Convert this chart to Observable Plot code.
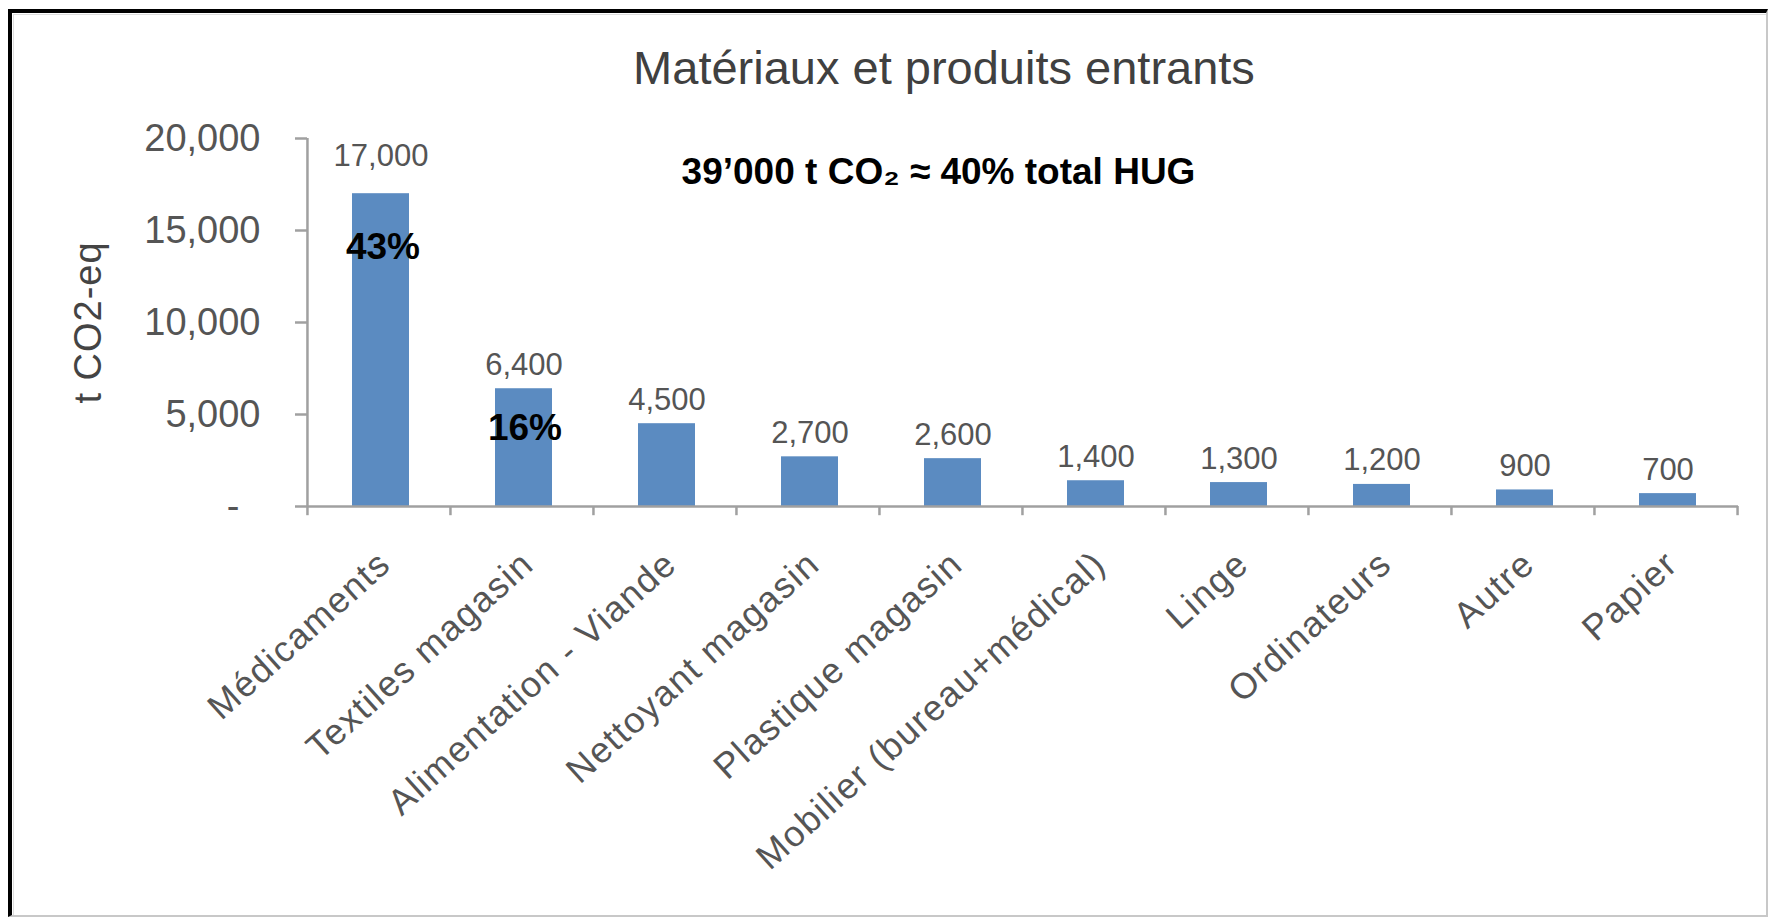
<!DOCTYPE html>
<html>
<head>
<meta charset="utf-8">
<script src="https://cdn.jsdelivr.net/npm/d3@7"></script>
<script src="https://cdn.jsdelivr.net/npm/@observablehq/plot@0.6"></script>
<style>
  body { margin: 0; background: #fff; }
  #wrap { position: relative; width: 1770px; height: 918px; background: #fff; overflow: hidden; font-family: "Liberation Sans", Arial, Helvetica, sans-serif; }
  #frame { position: absolute; left: 8px; top: 9px; width: 1754px; height: 902px;
           border-top: 4px solid #000; border-left: 4px solid #000;
           border-right: 2px solid #c8c8c8; border-bottom: 2px solid #c8c8c8; pointer-events: none; }
  #frame::after { content: ""; position: absolute; left: 1px; top: 1px; right: 0; bottom: 0; border-top: 1px solid #ddd; border-left: 1px solid #ddd; }
  #title { position: absolute; left: 118px; right: 0; top: 44px; height: 48px; line-height: 48px;
           text-align: center; font-size: 47px; color: #404040; }
  #chart { position: absolute; left: 0; top: 100px; }
  #chart g[aria-label="x-axis tick label"] text { letter-spacing: 1.5px; }
  #chart g.ylabel text { letter-spacing: 1px; }
</style>
</head>
<body>
<div id="wrap">
  <div id="frame"></div>
  <div id="title">Matériaux et produits entrants</div>
  <div id="chart"></div>
</div>
<script>
const categories = ["Médicaments", "Textiles magasin", "Alimentation - Viande", "Nettoyant magasin",
  "Plastique magasin", "Mobilier (bureau+médical)", "Linge", "Ordinateurs", "Autre", "Papier"];
const values = [17000, 6400, 4500, 2700, 2600, 1400, 1300, 1200, 900, 700];
const yTicks = [0, 5000, 10000, 15000, 20000];
const shareCategories = ["Médicaments", "Textiles magasin"];
const shareLabels = ["43%", "16%"];
const annotation = ["39’000 t CO₂ ≈ 40% total HUG"];
const yLabel = ["t CO2-eq"];

const data = categories.map((c, i) => ({category: c, value: values[i]}));
const shares = shareCategories.map((c, i) => ({category: c, value: values[categories.indexOf(c)], label: shareLabels[i]}));

const W = 1770, H = 818;
const mL = 307, mR = 32, mT = 38, mB = 412;
const step = (W - mL - mR) / categories.length;
const fmt = d3.format(",");
const axisColor = "#a0a0a0";
const textColor = "#555";

const chart = Plot.plot({
  width: W, height: H,
  marginLeft: mL, marginRight: mR, marginTop: mT, marginBottom: mB,
  style: {fontFamily: "'Liberation Sans', Arial, Helvetica, sans-serif", background: "transparent", overflow: "visible"},
  x: {domain: categories, paddingInner: 0.6, paddingOuter: 0.3, label: null},
  y: {domain: [0, 20000], label: null},
  marks: [
    Plot.barY(data, {x: "category", y: "value", fill: "#5b8bc1", dx: 2}),
    // axis lines
    Plot.ruleY([0], {stroke: axisColor, strokeWidth: 2.5}),
    Plot.ruleX([categories[0]], {x: d => d, dx: -step / 2, y1: 0, y2: 20000, stroke: axisColor, strokeWidth: 2.5}),
    // category boundary ticks
    Plot.ruleX(categories, {x: d => d, dx: -step / 2, y1: 0, y2: -500, stroke: axisColor, strokeWidth: 2.5}),
    Plot.ruleX([categories[categories.length - 1]], {x: d => d, dx: step / 2, y1: 0, y2: -500, stroke: axisColor, strokeWidth: 2.5}),
    Plot.axisY({ticks: yTicks, tickSize: 12, tickPadding: 35, fontSize: 38, fill: textColor, stroke: axisColor, strokeWidth: 2.5,
      tickFormat: d => d === 0 ? "-\u00a0\u00a0" : fmt(d), label: null}),
    Plot.axisX({tickRotate: -42, tickSize: 0, tickPadding: 52, dx: 6, fontSize: 36, fill: textColor, label: null}),
    Plot.text(yLabel, {frameAnchor: "left", dx: -219, rotate: -90, textAnchor: "middle", fontSize: 38, fill: "#444", text: d => d, className: "ylabel"}),
    // value labels
    Plot.text(data.slice(0, 1), {x: "category", y: "value", text: d => fmt(d.value), dy: -38, dx: 2, fontSize: 31, fill: textColor}),
    Plot.text(data.slice(1), {x: "category", y: "value", text: d => fmt(d.value), dy: -24, dx: 2, fontSize: 31, fill: textColor}),
    // share labels
    Plot.text(shares.slice(0, 1), {x: "category", y: "value", text: "label", dy: 53, dx: 4, fontSize: 37, fontWeight: "bold", fill: "#000"}),
    Plot.text(shares.slice(1), {x: "category", y: "value", text: "label", dy: 39, dx: 3, fontSize: 37, fontWeight: "bold", fill: "#000"}),
    // annotation
    Plot.text(annotation, {frameAnchor: "top-left", dx: 631, dy: 19, text: d => d, textAnchor: "middle", fontSize: 37, fontWeight: "bold", fill: "#000"})
  ]
});
document.getElementById("chart").appendChild(chart);
</script>
</body>
</html>
